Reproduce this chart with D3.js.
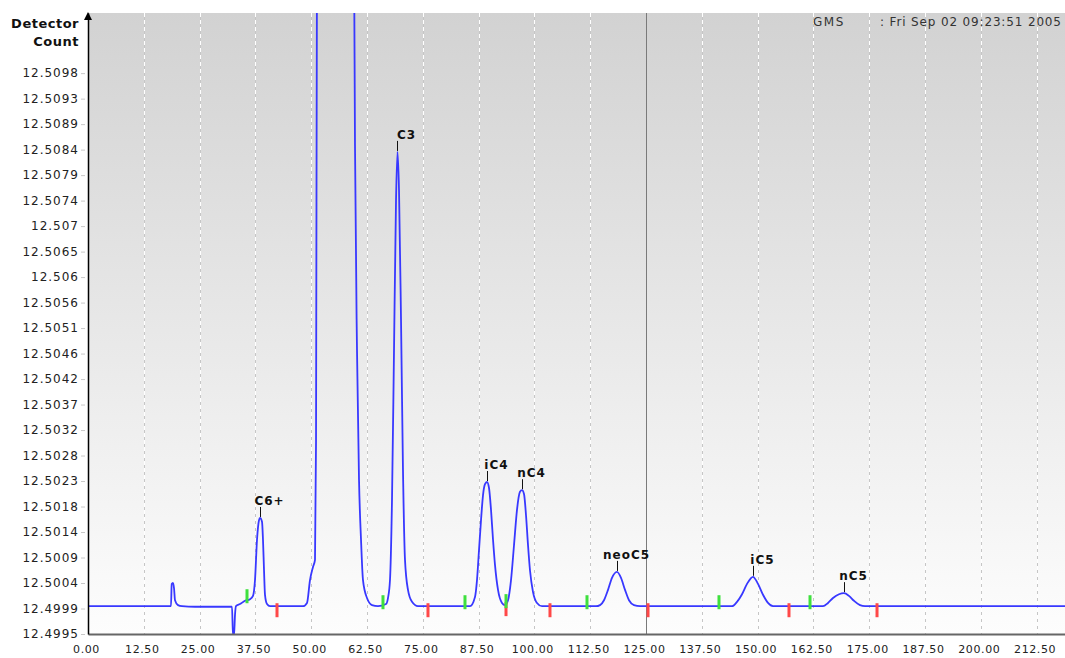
<!DOCTYPE html>
<html>
<head>
<meta charset="utf-8">
<script src="https://cdn.jsdelivr.net/npm/d3@7"></script>
<style>
  html, body { margin: 0; padding: 0; background: #fff; }
  svg { display: block; font-family: 'DejaVu Sans', Verdana, sans-serif; }
</style>
</head>
<body>
<svg id="chart" width="1065" height="658"></svg>
<script>
// Detector trace (retention time, detector count)
const traceTime = [0, 18.59, 18.75, 19.04, 19.27, 19.49, 20.16, 21.06, 23.97, 32.26, 32.48, 32.71, 32.93, 33.15,
  34.05, 35.17, 36.29, 36.96, 37.41, 37.86, 38.31, 38.53, 38.98, 39.2, 39.43, 39.65, 40.1, 40.77,
  48.16, 49.06, 49.73, 50.4, 50.85, 51.08, 51.3, 55.56, 59.59, 59.81, 60.26, 60.71, 61.16, 61.6, 62.5, 63.62, 64.96,
  66.76, 67.2, 67.65, 68.1, 68.55, 69.0, 69.33, 69.67, 70.12, 70.56, 71.01, 71.68, 72.58, 73.92,
  85.57, 86.69, 87.14, 87.59, 88.04, 88.49, 88.93, 89.38, 89.83, 90.28, 90.73, 91.17, 91.85, 92.74, 93.41,
  94.09, 94.76, 95.43, 96.1, 96.77, 97.22, 97.67, 98.12, 98.57, 99.01, 99.69, 100.58, 101.7,
  113.8, 114.7, 115.59, 116.49, 117.38, 118.5, 119.4, 120.3, 121.19, 122.31, 123.66,
  144.27, 145.39, 146.51, 147.63, 148.97, 150.09, 151.21, 152.33, 153.45,
  164.65, 165.77, 166.89, 168.24, 169.35, 170.47, 171.59, 172.94, 174.06, 218.86]
const traceCount = [12.49999, 12.49999, 12.5004, 12.50042, 12.50032, 12.5001, 12.50001, 12.49999, 12.49998, 12.49998, 12.49945, 12.49945, 12.49983, 12.49999,
  12.50003, 12.50009, 12.50012, 12.50018, 12.50047, 12.50121, 12.50157, 12.50161, 12.50154, 12.50121, 12.50065, 12.5002, 12.50003, 12.49999,
  12.49999, 12.50005, 12.50047, 12.50071, 12.50084, 12.503, 12.512, 12.53, 12.512, 12.50845, 12.50469, 12.50231, 12.50121, 12.50047, 12.50014, 12.50001, 12.49999,
  12.50003, 12.50014, 12.50047, 12.50194, 12.50469, 12.50744, 12.50833, 12.50763, 12.50524, 12.50249, 12.50084, 12.50029, 12.50007, 12.49999,
  12.49999, 12.50016, 12.50047, 12.50102, 12.50157, 12.50203, 12.50223, 12.50227, 12.50216, 12.50176, 12.50121, 12.50075, 12.50029, 12.50005, 12.50001,
  12.5001, 12.50047, 12.50111, 12.50176, 12.50209, 12.50212, 12.50205, 12.50166, 12.50111, 12.50065, 12.50025, 12.50005, 12.49999,
  12.49999, 12.50001, 12.5001, 12.50029, 12.50051, 12.50062, 12.50051, 12.50029, 12.5001, 12.50001, 12.49999,
  12.49999, 12.50007, 12.50021, 12.5004, 12.50053, 12.5004, 12.5002, 12.50005, 12.49999,
  12.49999, 12.50005, 12.50014, 12.50021, 12.50023, 12.50018, 12.50009, 12.50001, 12.49999, 12.49999]

// Named peaks
const peakNames = ['C6+', 'C3', 'iC4', 'nC4', 'neoC5', 'iC5', 'nC5']
const peakTimes = [38.53, 69.33, 89.38, 97.22, 118.5, 148.97, 169.35]
const peakCounts = [12.50161, 12.50833, 12.50227, 12.50212, 12.50062, 12.50053, 12.50023]

// Integration start (green) and end (red) marks
const startTimes = [35.62, 66.08, 84.45, 93.64, 111.78, 141.35, 161.74]
const startCounts = [12.5001, 12.49999, 12.49999, 12.50001, 12.49999, 12.49999, 12.49999]
const endTimes = [42.34, 76.16, 93.64, 103.49, 125.45, 157.03, 176.75]
const endCounts = [12.49999, 12.49999, 12.50001, 12.49999, 12.49999, 12.49999, 12.49999]

const cursorTime = 125

const xTickLabels = ['0.00', '12.50', '25.00', '37.50', '50.00', '62.50', '75.00', '87.50', '100.00', '112.50',
  '125.00', '137.50', '150.00', '162.50', '175.00', '187.50', '200.00', '212.50']
const yTickLabels = ['12.4995', '12.4999', '12.5004', '12.5009', '12.5014', '12.5018', '12.5023', '12.5028',
  '12.5032', '12.5037', '12.5042', '12.5046', '12.5051', '12.5056', '12.506', '12.5065', '12.507',
  '12.5074', '12.5079', '12.5084', '12.5089', '12.5093', '12.5098']
const yTickStart = 12.49948
const yTickStep = 0.000468

const plot = { left: 88, top: 13, right: 1065, bottom: 634 }

const svg = d3.select('#chart')

const x = d3.scaleLinear().domain([0, 218.86]).range([plot.left, plot.right])
const y = d3.scaleLinear().domain([12.49948, 12.51088]).range([plot.bottom, plot.top])

// background + clip
const defs = svg.append('defs')
const grad = defs.append('linearGradient').attr('id', 'bg')
  .attr('x1', 0).attr('y1', 0).attr('x2', 0).attr('y2', 1)
grad.append('stop').attr('offset', '0%').attr('stop-color', '#d2d2d2')
grad.append('stop').attr('offset', '100%').attr('stop-color', '#fdfdfd')
defs.append('clipPath').attr('id', 'clip').append('rect')
  .attr('x', plot.left).attr('y', plot.top)
  .attr('width', plot.right - plot.left).attr('height', plot.bottom - plot.top)

svg.append('rect')
  .attr('x', plot.left).attr('y', plot.top)
  .attr('width', plot.right - plot.left).attr('height', plot.bottom - plot.top)
  .attr('fill', 'url(#bg)')

// vertical dashed grid (white dashes show on grey, grey ones on white)
const xTickValues = xTickLabels.map(Number)
const gridTimes = xTickValues.filter(t => t > 0)
const gx = t => Math.round(x(t)) + 0.5
const grid = svg.append('g')
grid.selectAll('.grid-w').data(gridTimes).join('line')
  .attr('class', 'grid-w')
  .attr('x1', gx).attr('x2', gx).attr('y1', plot.top).attr('y2', plot.bottom)
  .attr('stroke', '#ffffff').attr('stroke-dasharray', '4,3')
grid.selectAll('.grid-g').data(gridTimes).join('line')
  .attr('class', 'grid-g')
  .attr('x1', gx).attr('x2', gx).attr('y1', plot.top).attr('y2', plot.bottom)
  .attr('stroke', '#c6c6c6').attr('stroke-dasharray', '3,4').attr('stroke-dashoffset', -4)

// cursor line
svg.append('line')
  .attr('x1', gx(cursorTime)).attr('x2', gx(cursorTime))
  .attr('y1', plot.top).attr('y2', plot.bottom)
  .attr('stroke', '#7a7a7a')

// header
svg.append('text').attr('x', 813).attr('y', 26).text('GMS')
  .style('font-size', '12px').style('letter-spacing', '1.5px').attr('fill', '#333')
svg.append('text').attr('x', 880).attr('y', 26).text(': Fri Sep 02 09:23:51 2005')
  .style('font-size', '12px').style('letter-spacing', '0.85px').attr('fill', '#333')

// trace
const line = d3.line()
  .x(d => x(d[0]))
  .y(d => y(d[1]))
  .curve(d3.curveMonotoneX)
svg.append('path')
  .datum(d3.zip(traceTime, traceCount))
  .attr('clip-path', 'url(#clip)')
  .attr('d', line)
  .attr('fill', 'none')
  .attr('stroke', '#3838ff')
  .attr('stroke-width', 1.8)

// integration marks
svg.selectAll('.end-mark').data(d3.zip(endTimes, endCounts)).join('rect')
  .attr('class', 'end-mark')
  .attr('x', d => x(d[0]) - 1.5).attr('y', d => y(d[1]) - 3)
  .attr('width', 3).attr('height', 14)
  .attr('fill', '#ff4848')
svg.selectAll('.start-mark').data(d3.zip(startTimes, startCounts)).join('rect')
  .attr('class', 'start-mark')
  .attr('x', d => x(d[0]) - 1.5).attr('y', d => y(d[1]) - 11)
  .attr('width', 3).attr('height', 14)
  .attr('fill', '#3ee03e')

// peak labels
const peaks = svg.append('g').selectAll('g').data(peakNames).join('g')
  .attr('transform', (d, i) => `translate(${Math.round(x(peakTimes[i])) + 0.5},${y(peakCounts[i])})`)
peaks.append('line').attr('y1', -11).attr('y2', -1).attr('stroke', '#111')
peaks.append('text')
  .attr('x', 9).attr('y', -13)
  .attr('text-anchor', 'middle')
  .style('font-size', '12px').style('font-weight', 'bold').style('letter-spacing', '1px')
  .attr('fill', '#111')
  .text(d => d)

// x axis
const xAxis = d3.axisBottom(x)
  .tickValues(xTickValues)
  .tickFormat((d, i) => xTickLabels[i])
  .tickSize(0)
  .tickPadding(11)
const gX = svg.append('g').attr('transform', `translate(0,${plot.bottom})`).call(xAxis)
gX.select('.domain').attr('stroke', '#666').attr('stroke-width', 2)
gX.selectAll('text')
  .attr('dx', -2)
  .style('font-size', '11px').style('letter-spacing', '0.6px')
  .style('font-family', "'DejaVu Sans', Verdana, sans-serif")
  .attr('fill', '#222')

// y axis
const yTickValues = yTickLabels.map((d, i) => yTickStart + i * yTickStep)
const yAxis = d3.axisLeft(y)
  .tickValues(yTickValues)
  .tickFormat((d, i) => yTickLabels[i])
  .tickSize(6)
  .tickPadding(3)
  .tickSizeOuter(0)
const gY = svg.append('g').attr('transform', `translate(${plot.left},0)`).call(yAxis)
gY.select('.domain').attr('stroke', '#000').attr('stroke-width', 1.5)
gY.selectAll('.tick line').attr('stroke', '#c8c8c8').attr('x2', -7).attr('x1', -3)
gY.selectAll('text')
  .style('font-size', '12px').style('letter-spacing', '1px')
  .style('font-family', "'DejaVu Sans', Verdana, sans-serif")
  .attr('fill', '#222')

// arrow on top of y axis
svg.append('path')
  .attr('d', `M${plot.left - 4},${plot.top + 7}L${plot.left},${plot.top - 1}L${plot.left + 4},${plot.top + 7}Z`)
  .attr('fill', '#000')

// axis title
const title = svg.append('text')
  .attr('text-anchor', 'end')
  .style('font-size', '13px').style('font-weight', 'bold').style('letter-spacing', '0.5px')
  .attr('fill', '#111')
title.append('tspan').attr('x', 79).attr('y', 28).text('Detector')
title.append('tspan').attr('x', 79).attr('y', 46).text('Count')
</script>
</body>
</html>
